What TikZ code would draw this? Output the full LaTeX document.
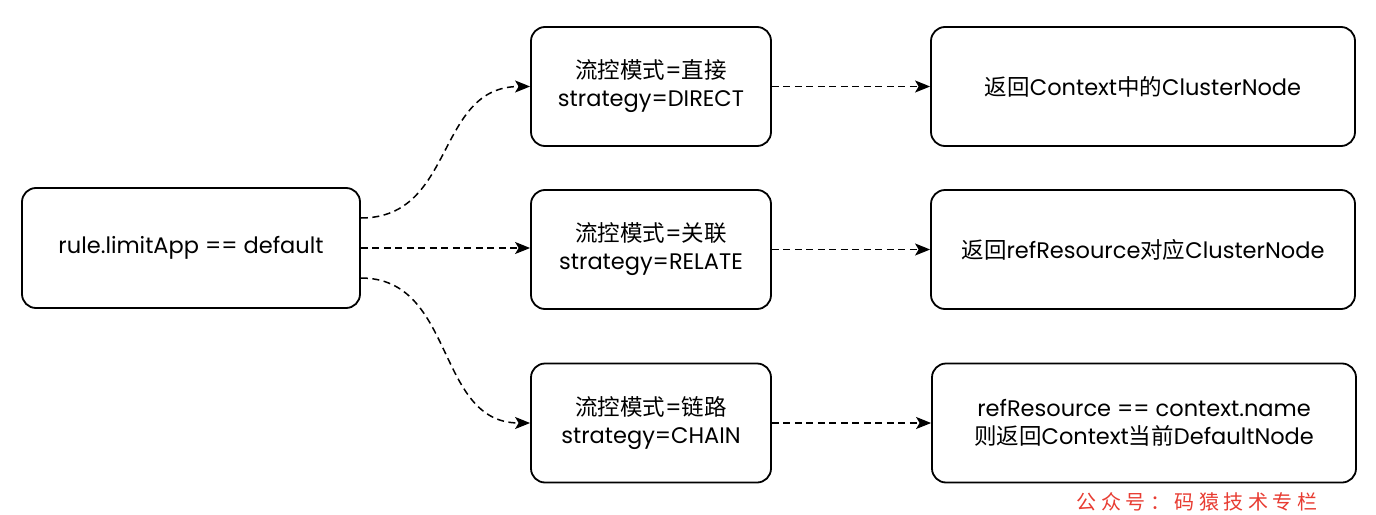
\documentclass[tikz,border=0pt]{standalone}
\usepackage{fontspec}
\setmainfont{Poppins}
\newfontfamily\cjk{Noto Sans CJK SC}
\usetikzlibrary{arrows.meta}
\definecolor{wmred}{RGB}{232,60,50}
\begin{document}
\begin{tikzpicture}[x=1pt,y=-1pt,
  box/.style={draw, line width=1.8pt, rounded corners=14pt, align=center,
    font=\fontsize{22.5}{28}\selectfont, inner sep=0pt, fill=white},
  lbox/.style={box, minimum width=338pt, minimum height=120pt},
  mbox/.style={box, minimum width=240pt, minimum height=119pt},
  rbox/.style={box, minimum width=424pt, minimum height=119pt},
  conn/.style={draw, line width=1.5pt, dash pattern=on 7pt off 4.5pt,
    -{Stealth[length=15pt,width=12pt,inset=3.5pt]}},
  wm/.style={text=wmred, font=\cjk\fontsize{20}{20}\selectfont, inner sep=0pt}]
\path[use as bounding box, fill=white] (0,0) rectangle (1376,514);

\node[lbox] (L) at (191,248) {rule.limitApp == default};

\node[mbox] (M1) at (651,86.5) {{\cjk 流控模式}={\cjk 直接}\\strategy=DIRECT};
\node[mbox] (M2) at (651,249.5) {{\cjk 流控模式}={\cjk 关联}\\strategy=RELATE};
\node[mbox] (M3) at (651,423) {{\cjk 流控模式}={\cjk 链路}\\strategy=CHAIN};

\node[rbox] (R1) at (1143,86.5) {{\cjk 返回}Context{\cjk 中的}ClusterNode};
\node[rbox] (R2) at (1143,249.5) {{\cjk 返回}refResource{\cjk 对应}ClusterNode};
\node[rbox] (R3) at (1144,423) {refResource == context.name\\{\cjk 则返回}Context{\cjk 当前}DefaultNode};

\draw[conn] ([yshift=30pt]L.east) .. controls +(95,0) and +(-95,0) .. (M1.west);
\draw[conn] (L.east) -- (L.east -| M2.west);
\draw[conn] ([yshift=-30pt]L.east) .. controls +(95,0) and +(-95,0) .. (M3.west);

\draw[conn] (M1.east) -- (R1.west);
\draw[conn] (M2.east) -- (R2.west);
\draw[conn] (M3.east) -- (R3.west);

\node[wm] (W) at (1197,502) {公\hspace{4.5pt}众\hspace{4.5pt}号\hspace{4.5pt}：\hspace{4.5pt}码\hspace{4.5pt}猿\hspace{4.5pt}技\hspace{4.5pt}术\hspace{4.5pt}专\hspace{4.5pt}栏};
\end{tikzpicture}
\end{document}
